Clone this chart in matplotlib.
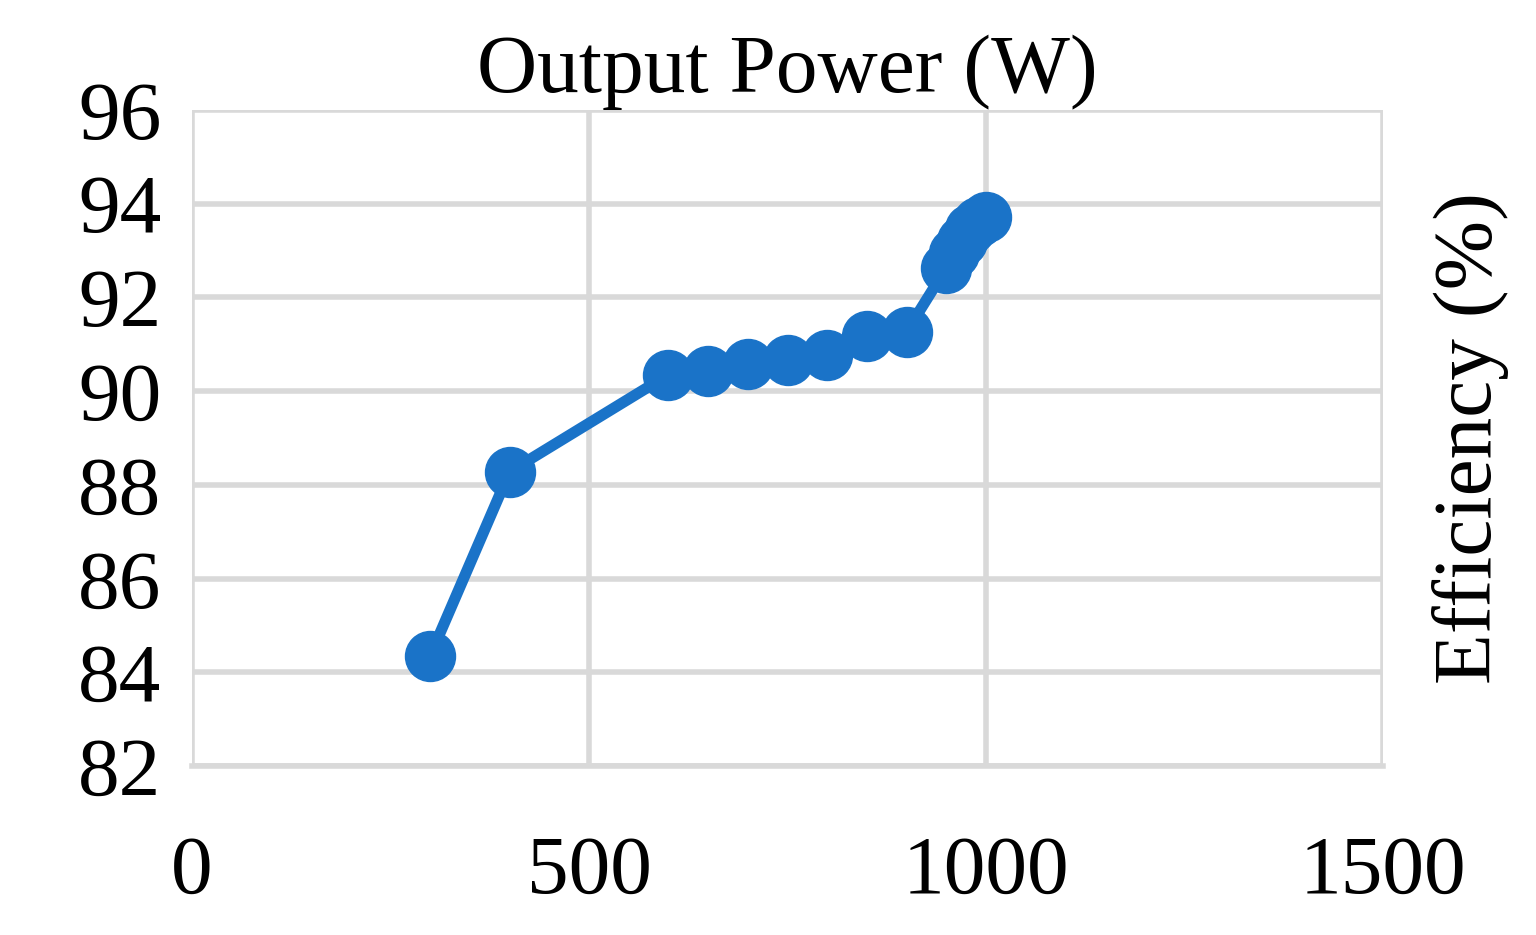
import matplotlib
matplotlib.use("Agg")
from matplotlib import pyplot as plt

power_w = [300, 400, 600, 650, 700, 750, 800, 850, 900, 950, 960, 970, 980, 990, 1000]
efficiency = [84.35, 88.28, 90.35, 90.42, 90.57, 90.67, 90.77, 91.17, 91.27,
              92.63, 92.95, 93.2, 93.45, 93.6, 93.72]

plt.rcParams["font.family"] = ["Liberation Serif", "DejaVu Serif"]
fig = plt.figure(figsize=(15.36, 9.35), dpi=100)
ax = fig.add_axes([192 / 1536, 1 - 766 / 935, (1383 - 192) / 1536, (766 - 110) / 935])

ax.plot(power_w, efficiency, color="#1a73c8", lw=8, marker="o", ms=36, zorder=3,
        clip_on=False)
ax.set_xlim(0, 1500)
ax.set_ylim(82, 96)
ax.set_xticks([0, 500, 1000, 1500])
ax.set_yticks(range(82, 97, 2))
ax.grid(True, color="#d9d9d9", lw=4)
for s in ax.spines.values():
    s.set_visible(False)
ax.spines["bottom"].set_visible(True)
ax.spines["bottom"].set_color("#d9d9d9")
ax.spines["bottom"].set_linewidth(4)
ax.tick_params(length=0, labelsize=60, pad=22)
ax.tick_params(axis="x", pad=50)
ax.set_title("Output Power (W)", fontsize=60, pad=10)
ax.yaxis.set_label_position("right")
ax.set_ylabel("Efficiency (%)", fontsize=60, labelpad=35)

fig.savefig("out.png", dpi=100, facecolor="white")
